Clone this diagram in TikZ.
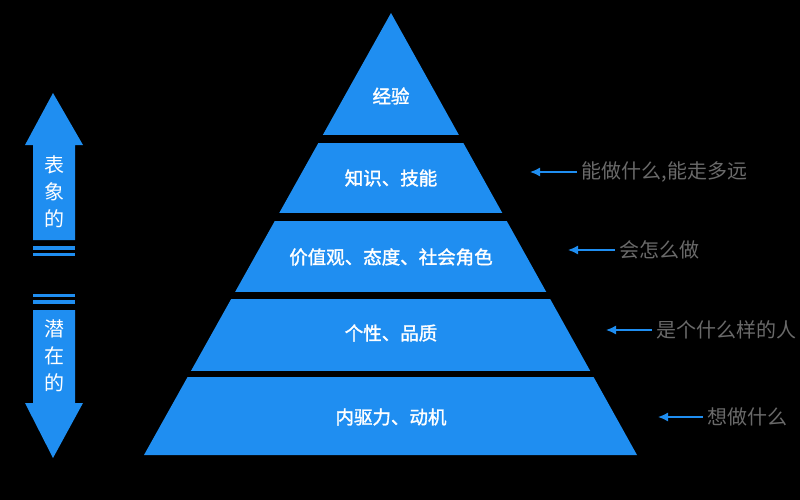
\documentclass[tikz,border=0pt]{standalone}
\usepackage{fontspec}
\usepackage{tikz}
\usetikzlibrary{arrows.meta}
\usepackage{xcolor}
\newfontfamily\cjk{Noto Sans CJK SC}
\newfontfamily\cjkb[FakeBold=1.6]{Noto Sans CJK SC}
\definecolor{pyrblue}{HTML}{1F8EF1}
\definecolor{notegray}{HTML}{6A6A6A}

\begin{document}
\begin{tikzpicture}[x=1pt, y=-1pt, color = white, line width=1.5,
		lay/.style={font=\cjkb\fontsize{18.5}{18.5}\selectfont},
		note/.style={text=notegray, anchor=west, inner sep=4pt, font=\cjk\fontsize{20}{20}\selectfont},
		side/.style={align=center, font=\cjk\fontsize{20}{27}\selectfont},
		pt/.style={pyrblue, -{Latex[length=10pt,width=9pt]}}]
		\fill[black] (0,0) rectangle (800,500);
		\useasboundingbox (0,0) rectangle (800,500);
		\fill[pyrblue] (391,13) -- (637,455) -- (144,455) -- cycle;
		\foreach \a/\b in {135/143, 213/221, 292/299, 371/377}
			\fill[black] (130,\a) rectangle (650,\b);
		\draw (391,96) node[lay] (exp) {经验};
		\draw (391,178) node[lay] (skill) {知识、技能};
		\draw (391,257) node[lay] (value) {价值观、态度、社会角色};
		\draw (391,333) node[lay] (trait) {个性、品质};
		\draw (391,417) node[lay] (drive) {内驱力、动机};
		\draw (577,172) node[note] (can) {能做什么,能走多远};
		\draw (615,250) node[note] (how) {会怎么做};
		\draw (652,330) node[note] (who) {是个什么样的人};
		\draw (703,417) node[note] (want) {想做什么};
		\coordinate (canT) at (530,172);
		\coordinate (howT) at (568,250);
		\coordinate (whoT) at (606,330);
		\coordinate (wantT) at (658,417);
		\draw[pt] (can.west) -- (canT);
		\draw[pt] (how.west) -- (howT);
		\draw[pt] (who.west) -- (whoT);
		\draw[pt] (want.west) -- (wantT);
		\fill[pyrblue] (53,93) -- (83,145) -- (75,145) -- (75,240) -- (33,240) -- (33,145) -- (25,145) -- cycle;
		\fill[pyrblue] (33,310) -- (75,310) -- (75,403) -- (83,403) -- (53,458) -- (25,403) -- (33,403) -- cycle;
		\fill[pyrblue] (33,246) rectangle (75,250);
		\fill[pyrblue] (33,253) rectangle (75,255.5);
		\fill[pyrblue] (33,294) rectangle (75,296.5);
		\fill[pyrblue] (33,300) rectangle (75,304);
		\draw (54,192) node[side] (surf) {表\\象\\的};
		\draw (54,356) node[side] (deep) {潜\\在\\的};
	\end{tikzpicture}
\end{document}
